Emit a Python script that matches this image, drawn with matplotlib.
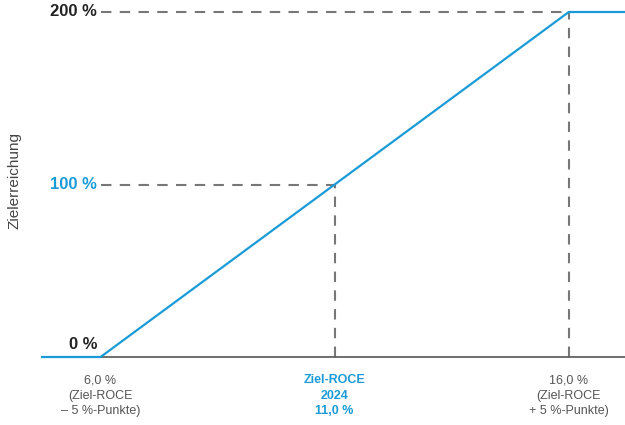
import matplotlib
matplotlib.use("Agg")
import matplotlib.pyplot as plt

plt.rcParams['font.family'] = ['Liberation Sans', 'DejaVu Sans']

# ROCE in % -> Zielerreichung in %
roce = [4.75, 6.0, 16.0, 17.2]
zielerreichung = [0, 0, 200, 200]

marks_x = [11.0, 16.0]
marks_y = [100, 200]

ytick_vals = [0, 100, 200]
ytick_labels = ["0 %", "100 %", "200 %"]
ytick_colors = ["#222222", "#1a9bd7", "#222222"]

xtick_vals = [6.0, 11.0, 16.0]
xtick_labels = ["6,0 %\n(Ziel-ROCE\n– 5 %-Punkte)",
                "Ziel-ROCE\n2024\n11,0 %",
                "16,0 %\n(Ziel-ROCE\n+ 5 %-Punkte)"]

blue = "#1a9bd7"
grey = "#777777"

fig = plt.figure(figsize=(6.25, 4.25), dpi=100)
ax = fig.add_axes([42 / 625, 68 / 425, 1 - 42 / 625, (357 - 12) / 425])
ax.set_xlim(4.75, 17.2)
ax.set_ylim(0, 200)

for mx, my in zip(marks_x, marks_y):
    ax.plot([6.0, mx], [my, my], color=grey, lw=1.5, dashes=(5, 4), clip_on=False)
    ax.plot([mx, mx], [0, my], color=grey, lw=1.5, dashes=(5, 4), clip_on=False)

ax.plot(roce, zielerreichung, color=blue, lw=1.6, clip_on=False, zorder=3)

for s in ["top", "right", "left"]:
    ax.spines[s].set_visible(False)
ax.spines["bottom"].set_color("#555555")
ax.spines["bottom"].set_linewidth(1.2)
ax.set_xticks([])
ax.set_yticks([])

for v, lab, c in zip(ytick_vals, ytick_labels, ytick_colors):
    yy = v + 7 if v == 0 else v
    ax.text(5.93, yy, lab, ha="right", va="center", fontsize=12,
            fontweight="bold", color=c)

for i, (v, lab) in enumerate(zip(xtick_vals, xtick_labels)):
    mid = i == 1
    ax.text(v, -10, lab, ha="center", va="top", fontsize=9,
            linespacing=1.4, color=blue if mid else "#555555",
            fontweight="bold" if mid else "normal")

fig.text(15 / 625, 1 - 180 / 425, "Zielerreichung", rotation=90,
         ha="center", va="center", fontsize=11, color="#444444")

fig.savefig("out.png", dpi=100)
